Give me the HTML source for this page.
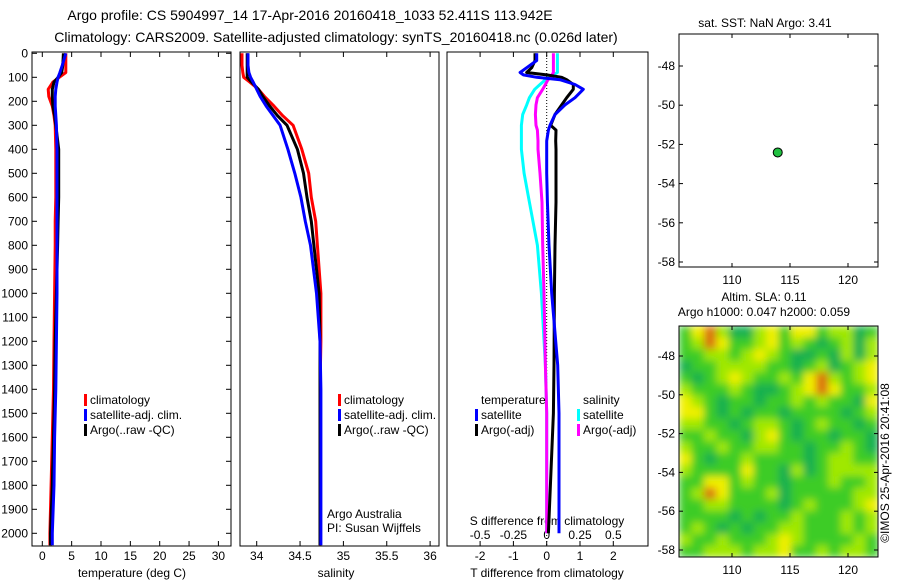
<!DOCTYPE html>
<html><head><meta charset="utf-8">
<style>
html,body{margin:0;padding:0;background:#fff;}
svg{display:block;font-family:"Liberation Sans",sans-serif;}
text{font-size:12px;fill:#000;}
</style></head>
<body>
<svg id="fig" width="900" height="580" viewBox="0 0 900 580" xmlns="http://www.w3.org/2000/svg">
<defs>
<filter id="blur" x="0" y="0" width="100%" height="100%"><feGaussianBlur stdDeviation="4"/></filter>
<clipPath id="hmclip"><rect x="679" y="326" width="199" height="231"/></clipPath>
</defs>
<text x="310" y="20" text-anchor="middle" style="font-size:14px">Argo profile: CS 5904997_14 17-Apr-2016 20160418_1033 52.411S 113.942E</text>
<text x="336" y="42" text-anchor="middle" style="font-size:14px">Climatology: CARS2009. Satellite-adjusted climatology: synTS_20160418.nc (0.026d later)</text>
<g id="g"></g>
</svg>
<script>
// ---- data ----
const depths = [0,50,80,100,120,150,180,220,260,300,400,500,600,700,800,1000,1200,1400,1600,1800,2000,2050];
const tClim  = [4.0,4.0,4.0,2.9,1.8,1.0,1.1,1.7,2.0,2.2,2.3,2.3,2.3,2.2,2.2,2.1,2.0,1.9,1.7,1.5,1.3,1.3];
const tSat   = [4.0,3.4,3.0,2.7,2.5,2.3,2.2,2.2,2.3,2.4,2.5,2.5,2.5,2.5,2.5,2.5,2.4,2.3,2.1,2.0,1.7,1.7];
const tArgo  = [3.6,3.5,3.3,2.7,2.0,1.7,1.7,1.8,2.1,2.3,2.8,2.8,2.8,2.7,2.6,2.4,2.2,2.1,1.9,1.7,1.4,1.4];
const sClim  = [33.83,33.83,33.84,33.85,33.92,34.02,34.09,34.2,34.3,34.42,34.52,34.6,34.63,34.68,34.7,34.74,34.74,34.73,34.73,34.73,34.73,34.73];
const sSat   = [33.90,33.90,33.91,33.93,33.96,34.0,34.04,34.11,34.19,34.27,34.36,34.44,34.51,34.56,34.62,34.69,34.73,34.74,34.74,34.74,34.74,34.74];
const sArgo  = [33.89,33.89,33.89,33.89,33.94,34.02,34.07,34.15,34.24,34.35,34.47,34.54,34.58,34.63,34.66,34.72,34.73,34.73,34.73,34.73,34.73,34.73];
const diffDepths = [0,30,60,80,90,100,110,130,150,185,215,255,300,320,365,400,500,620,800,1000,1300,1500,1900,2000];
const dTSat  = [-0.3,-0.3,-0.6,-0.8,-0.7,-0.3,0.4,0.85,1.1,0.85,0.55,0.25,0.1,0.05,0.0,0.0,0.0,0.02,0.07,0.15,0.33,0.37,0.37,0.37];
const dTArgo = [-0.35,-0.35,-0.45,-0.6,0.0,0.45,0.6,0.8,0.8,0.6,0.45,0.25,0.12,0.28,0.27,0.28,0.28,0.28,0.25,0.23,0.22,0.2,0.08,0.05];
const dSSat  = [0.08,0.08,0.08,0.08,0.05,0.02,-0.01,-0.05,-0.09,-0.13,-0.15,-0.18,-0.19,-0.19,-0.19,-0.19,-0.17,-0.13,-0.07,-0.04,-0.01,0.0,0.0,0.0];
const dSArgo = [0.05,0.05,0.05,0.05,0.04,0.03,0.01,-0.01,-0.03,-0.07,-0.08,-0.085,-0.08,-0.07,-0.065,-0.065,-0.05,-0.035,-0.03,-0.02,-0.01,0.0,0.0,0.0];
const depthTicks = [0,100,200,300,400,500,600,700,800,900,1000,1100,1200,1300,1400,1500,1600,1700,1800,1900,2000];
const tempTicks = [0,5,10,15,20,25,30];
const salTicks = [34,34.5,35,35.5,36];
const tdTicks = [-2,-1,0,1,2];
const sdTicks = [-0.5,-0.25,0,0.25,0.5];
const sdTickLabels = ["-0.5","-0.25","0","0.25","0.5"];
const lonTicks = [110,115,120];
const latTicks = [-48,-50,-52,-54,-56,-58];
const argoLon = [113.942];
const argoLat = [-52.411];
const slaGrid = [
[2,4,5,3,1,1,3,4,2,4,4,2,3,3,1,2],
[2,3,5,4,2,2,3,4,2,3,2,1,2,3,1,3],
[2,2,3,3,2,3,4,3,2,1,1,2,1,3,1,3],
[1,2,2,3,3,3,3,2,2,1,2,3,1,2,3,4],
[2,1,2,3,4,3,2,2,3,2,4,5,3,2,3,4],
[3,2,2,2,3,2,1,1,2,3,4,5,4,2,2,3],
[4,3,2,1,2,2,1,2,2,3,2,3,2,2,1,4],
[4,4,2,1,2,1,2,2,1,2,2,2,2,1,2,3],
[3,3,2,2,1,2,3,3,2,1,2,3,2,2,1,2],
[2,2,3,2,2,1,3,4,2,1,2,2,1,2,2,1],
[3,2,2,3,2,2,3,3,2,2,1,2,2,3,2,1],
[4,2,1,2,2,3,2,2,2,2,1,2,3,3,2,2],
[3,2,2,2,2,4,2,2,1,3,1,2,3,3,3,3],
[2,2,4,4,2,3,2,2,1,2,2,2,3,2,2,3],
[2,3,5,4,2,2,2,3,1,2,2,2,2,2,3,3],
[2,2,3,3,2,2,2,2,1,2,3,2,2,2,3,4],
[2,2,2,2,1,2,1,2,2,3,2,2,2,3,2,3],
[2,3,2,1,2,1,2,2,3,3,2,2,2,3,2,3],
[3,2,2,3,2,2,2,3,4,3,2,2,2,2,3,2],
[2,2,3,3,3,2,3,3,4,2,2,3,2,3,3,2]];
const slaColors = ["#00a090","#14b050","#3ccc28","#a0e800","#f0f000","#dc7010"];

// ---- helpers ----
const NS="http://www.w3.org/2000/svg";
const G=document.getElementById('g');
function mk(tag,attrs,parent){const e=document.createElementNS(NS,tag);for(const k in attrs)e.setAttribute(k,attrs[k]);(parent||G).appendChild(e);return e;}
function txt(x,y,s,anchor,parent){const e=mk('text',{x:x,y:y,'text-anchor':anchor||'middle'},parent);e.textContent=s;return e;}

const yD = d => 53.3 + d*0.24;
const xT = t => 42.3 + t*5.87;
const xS = s => 256.7 + (s-34)*86.7;
const xTD = t => 546.7 + t*33.3;
const xSD = s => 546.7 + s*133.2;
const xLon1 = l => 732 + (l-110)*11.6;
const yLat1 = l => 66 + (-48-l)*19.6;
const xLon2 = l => 732 + (l-110)*11.6;
const yLat2 = l => 356 + (-48-l)*19.4;

function panel(x0,x1,name){
  const r=mk('rect',{x:x0,y:52,width:x1-x0,height:494,fill:'none',stroke:'#000','stroke-width':1});
  
  
}
panel(32,231,'temperature-panel');
panel(240,439,'salinity-panel');
panel(447,648,'difference-panel');

const dg=mk('g',{});


depthTicks.forEach(d=>{
  const y=yD(d);
  mk('line',{x1:32,x2:37,y1:y,y2:y,stroke:'#000'},dg);
  mk('line',{x1:226,x2:231,y1:y,y2:y,stroke:'#000'},dg);
  txt(28,y+4,String(d),'end',dg);
});

function xAxis(ticks,labels,fx,yLab,name){
  const g=mk('g',{});
  
  
  ticks.forEach((v,i)=>{
    const x=fx(v);
    mk('line',{x1:x,x2:x,y1:52,y2:57,stroke:'#000'},g);
    mk('line',{x1:x,x2:x,y1:541,y2:546,stroke:'#000'},g);
    if(yLab) txt(x,yLab,labels[i],'middle',g);
  });
  return g;
}
xAxis(tempTicks,tempTicks.map(String),xT,560,'temperature-axis');
xAxis(salTicks,salTicks.map(String),xS,560,'salinity-axis');
xAxis(tdTicks,tdTicks.map(String),xTD,560,'t-difference-axis');
const sdg=mk('g',{});


sdTicks.forEach((v,i)=>{txt(xSD(v),539,sdTickLabels[i],'middle',sdg);});

function lbl(x,y,s,name,anchor){const e=txt(x,y,s,anchor||'middle');return e;}
lbl(132,577,'temperature (deg C)','x-axis-title-temperature');
lbl(336,577,'salinity','x-axis-title-salinity');
lbl(547,577,'T difference from climatology','x-axis-title-t-difference');
lbl(547,525,'S difference from climatology','x-axis-title-s-difference');

const zl=mk('line',{x1:xTD(0),x2:xTD(0),y1:52,y2:546,stroke:'#000','stroke-dasharray':'1,2'});



function series(vals,dep,fx,color,w,name){
  const pts=vals.map((v,i)=>fx(v).toFixed(1)+','+yD(dep[i]).toFixed(1)).join(' ');
  const p=mk('polyline',{points:pts,fill:'none',stroke:color,'stroke-width':w,'stroke-linejoin':'round'});
  
  
}
series(tClim,depths,xT,'#ff0000',3,'temp-climatology-line');
series(tArgo,depths,xT,'#000000',3,'temp-argo-line');
series(tSat,depths,xT,'#0000ff',3,'temp-satellite-line');
series(sClim,depths,xS,'#ff0000',3,'sal-climatology-line');
series(sArgo,depths,xS,'#000000',3,'sal-argo-line');
series(sSat,depths,xS,'#0000ff',3,'sal-satellite-line');
series(dSSat,diffDepths,xSD,'#00ffff',3,'s-diff-satellite-line');
series(dSArgo,diffDepths,xSD,'#ff00ff',3,'s-diff-argo-line');
series(dTArgo,diffDepths,xTD,'#000000',3,'t-diff-argo-line');
series(dTSat,diffDepths,xTD,'#0000ff',3,'t-diff-satellite-line');

function legend(x,y,entries,name){
  const g=mk('g',{});
  
  
  entries.forEach((e,i)=>{
    if(e[1]) mk('rect',{x:x-6,y:y+i*15-10,width:3,height:12,fill:e[1]},g);
    txt(x,y+i*15,e[0],'start',g);
  });
}
legend(90,404,[['climatology','#ff0000'],['satellite-adj. clim.','#0000ff'],['Argo(..raw -QC)','#000000']],'temperature-legend');
legend(344,404,[['climatology','#ff0000'],['satellite-adj. clim.','#0000ff'],['Argo(..raw -QC)','#000000']],'salinity-legend');
legend(481,404,[['temperature',null],['satellite','#0000ff'],['Argo(-adj)','#000000']],'t-diff-legend');
legend(583,404,[['salinity',null],['satellite','#00ffff'],['Argo(-adj)','#ff00ff']],'s-diff-legend');
lbl(327,518,'Argo Australia','argo-australia-label','start');
lbl(327,532,'PI: Susan Wijffels','pi-label','start');

lbl(765,27,'sat. SST: NaN Argo: 3.41','sst-map-title');
const m1=mk('rect',{x:679,y:34,width:199,height:233,fill:'none',stroke:'#000'});


function mapAxes(fx,fy,top,bot,labY,name){
  const g=mk('g',{});
  
  
  lonTicks.forEach(l=>{const x=fx(l);mk('line',{x1:x,x2:x,y1:top,y2:top+4,stroke:'#000'},g);mk('line',{x1:x,x2:x,y1:bot-4,y2:bot,stroke:'#000'},g);txt(x,labY,String(l),'middle',g);});
  latTicks.forEach(l=>{const y=fy(l);mk('line',{x1:679,x2:683,y1:y,y2:y,stroke:'#000'},g);mk('line',{x1:874,x2:878,y1:y,y2:y,stroke:'#000'},g);txt(675,y+4,String(l),'end',g);});
}
mapAxes(xLon1,yLat1,34,267,284,'sst-map-axes');
argoLon.forEach((l,i)=>{
  const c=mk('circle',{cx:xLon1(l),cy:yLat1(argoLat[i]),r:4.5,fill:'#20c040',stroke:'#000','stroke-width':1});
  
  
});

lbl(764,301,'Altim. SLA: 0.11','sla-map-title-1');
lbl(764,316,'Argo h1000: 0.047 h2000: 0.059','sla-map-title-2');
const hg=mk('g',{'clip-path':'url(#hmclip)'});


const inner=mk('g',{filter:'url(#blur)'},hg);
mk('rect',{x:679,y:326,width:199,height:231,fill:'#3ccc28'},inner);
const nr=slaGrid.length,nc=slaGrid[0].length,cw=199/nc,ch=231/nr;
slaGrid.forEach((row,r)=>row.forEach((v,c)=>{
  const cell=mk('rect',{x:(679+c*cw).toFixed(2),y:(326+r*ch).toFixed(2),width:(cw+0.6).toFixed(2),height:(ch+0.6).toFixed(2),fill:slaColors[v]},inner);
  
  
}));
const m2=mk('rect',{x:679,y:326,width:199,height:231,fill:'none',stroke:'#000'});


mapAxes(xLon2,yLat2,326,557,574,'sla-map-axes');
const cr=txt(0,0,'©IMOS 25-Apr-2016 20:41:08','middle');
cr.setAttribute('transform','translate(889,463) rotate(-90)');


</script>
</body></html>
